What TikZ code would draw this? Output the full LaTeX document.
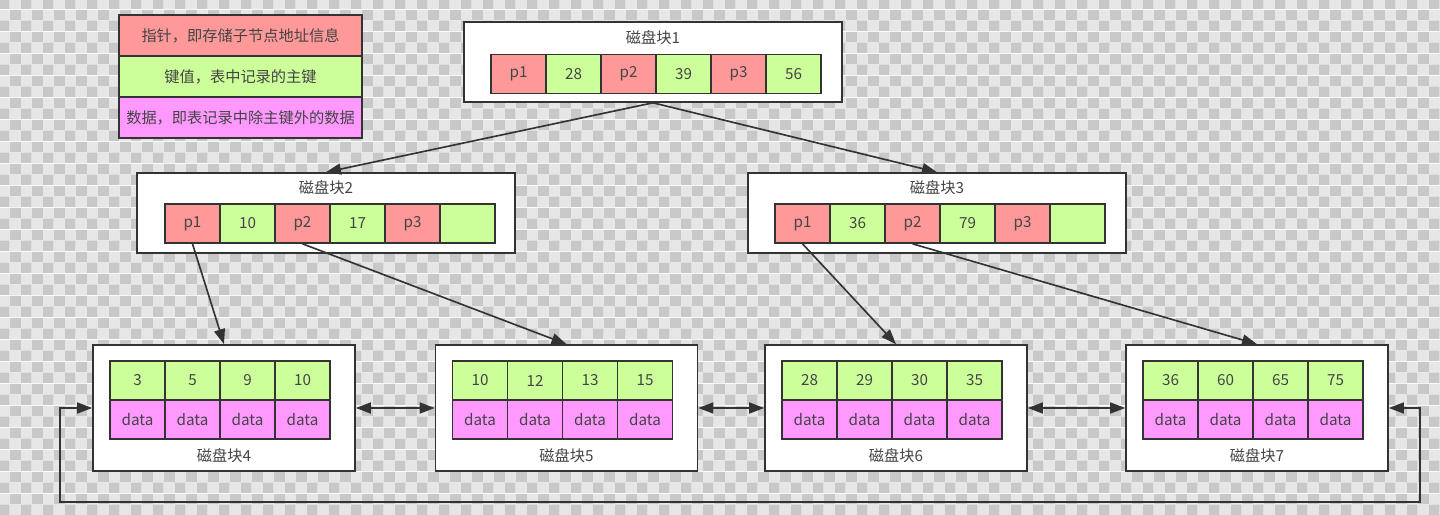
\documentclass[tikz,border=0pt]{standalone}
\usepackage{fontspec}
\setmainfont{Noto Sans CJK SC}
\usetikzlibrary{arrows.meta,patterns.meta}
\definecolor{zrot}{HTML}{FF9999}
\definecolor{sgruen}{HTML}{CCFF99}
\definecolor{dlila}{HTML}{FF99FF}
\definecolor{rand}{HTML}{333333}
\definecolor{schrift}{HTML}{444444}
\definecolor{kdunkel}{HTML}{C8C8C8}
\definecolor{khell}{HTML}{E6E6E6}
\tikzdeclarepattern{
  name=schach,
  type=colored,
  bottom left={(0pt,0pt)},
  top right={(18.78pt,18.78pt)},
  tile size={(18.78pt,18.78pt)},
  code={
    \fill[kdunkel] (0pt,0pt) rectangle (9.39pt,9.39pt);
    \fill[kdunkel] (9.39pt,9.39pt) rectangle (18.78pt,18.78pt);
    \fill[khell] (9.39pt,0pt) rectangle (18.78pt,9.39pt);
    \fill[khell] (0pt,9.39pt) rectangle (9.39pt,18.78pt);
  }
}
\tikzset{
  zelle/.style={draw=rand,line width=1.4pt,minimum width=1.65cm,minimum height=1.17cm,inner sep=0pt,text=schrift,font=\fontsize{13}{15}\selectfont},
  zeiger/.style={zelle,fill=zrot},
  schluessel/.style={zelle,fill=sgruen},
  daten/.style={zelle,fill=dlila},
  legende/.style={zelle,line width=1.8pt,minimum width=7.29cm,minimum height=1.23cm},
  block/.style={draw=rand,fill=white,line width=1.4pt,inner sep=0pt},
  titel/.style={text=schrift,font=\fontsize{13}{15}\selectfont},
  pfeil/.style={-{Triangle[length=4.5mm,width=3.3mm]},rand,line width=1.4pt},
  dpfeil/.style={{Triangle[length=4.5mm,width=3.3mm]}-{Triangle[length=4.5mm,width=3.3mm]},rand,line width=1.4pt},
}
\begin{document}
\begin{tikzpicture}[x=0.03cm,y=-0.03cm]
  \fill[pattern=schach] (0,0) rectangle (1440,515);
  % Legende
  \node[legende,fill=zrot] (lz) at (240.5,35.5) {指针，即存储子节点地址信息};
  \node[legende,fill=sgruen] (ls) at (240.5,76.5) {键值，表中记录的主键};
  \node[legende,fill=dlila] (ld) at (240.5,117.5) {数据，即表记录中除主键外的数据};
  % innere Bloecke
  \node[block,minimum width=11.34cm,minimum height=2.4cm] (b1) at (653,62) {};
  \node[titel] (t1) at (653,38) {磁盘块1};
  \foreach \s/\t [count=\i] in {zeiger/p1,schluessel/28,zeiger/p2,schluessel/39,zeiger/p3,schluessel/56}
    \node[\s] (b1z\i) at ({518.5+55*(\i-1)},74) {\t};
  \node[block,minimum width=11.34cm,minimum height=2.4cm] (b2) at (326,213) {};
  \node[titel] (t2) at (326,188) {磁盘块2};
  \foreach \s/\t [count=\i] in {zeiger/p1,schluessel/10,zeiger/p2,schluessel/17,zeiger/p3,schluessel/}
    \node[\s] (b2z\i) at ({192.5+55*(\i-1)},223.5) {\t};
  \node[block,minimum width=11.34cm,minimum height=2.4cm] (b3) at (937,213) {};
  \node[titel] (t3) at (937,188) {磁盘块3};
  \foreach \s/\t [count=\i] in {zeiger/p1,schluessel/36,zeiger/p2,schluessel/79,zeiger/p3,schluessel/}
    \node[\s] (b3z\i) at ({802.5+55*(\i-1)},223.5) {\t};
  % Blattbloecke
  \foreach \n/\bx/\ks in {4/224/{3,5,9,10},5/566.5/{10,12,13,15},6/896/{28,29,30,35},7/1257/{36,60,65,75}}{
    \node[block,minimum width=7.86cm,minimum height=3.78cm] (b\n) at (\bx,408) {};
    \node[titel] (t\n) at (\bx,456) {磁盘块\n};
    \foreach \k [count=\i] in \ks{
      \node[schluessel] (b\n s\i) at ({\bx-86.5+55*(\i-1)},380.5) {\k};
      \node[daten] (b\n d\i) at ({\bx-86.5+55*(\i-1)},419.5) {data};
    }
  }
  % Verweise
  \draw[pfeil] (b1.south) -- (b2.north);
  \draw[pfeil] (b1.south) -- (b3.north);
  \draw[pfeil] (b2z1.south) -- (b4.north);
  \draw[pfeil] (b2z3.south) -- (b5.north);
  \draw[pfeil] (b3z1.south) -- (b6.north);
  \draw[pfeil] (b3z3.south) -- (b7.north);
  \draw[dpfeil] (b4.east) -- (b5.west);
  \draw[dpfeil] (b5.east) -- (b6.west);
  \draw[dpfeil] (b6.east) -- (b7.west);
  \coordinate (rechts) at (1420,502);
  \coordinate (links) at (60,502);
  \draw[dpfeil] (b7.east) -| (rechts) -- (links) |- (b4.west);
\end{tikzpicture}
\end{document}
